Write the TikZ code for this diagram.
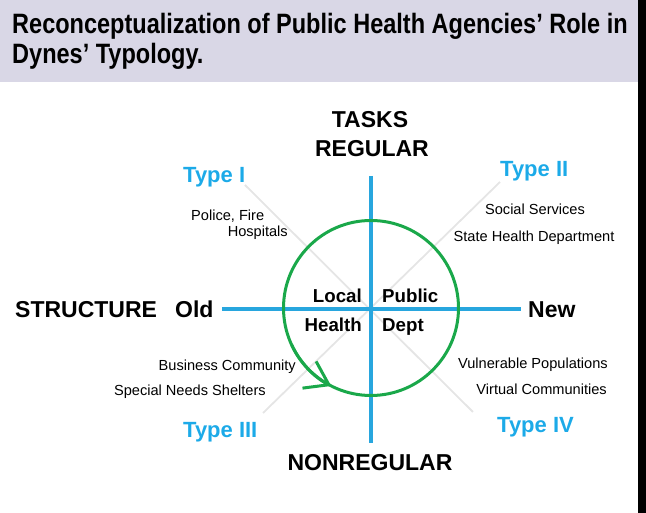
\documentclass[tikz,border=0pt]{standalone}
\usepackage{fontspec}
\setmainfont{Liberation Sans}
\newfontfamily\titlefont[FakeStretch=0.84]{Liberation Sans}
\usepackage{tikz}
\usetikzlibrary{arrows.meta}
\definecolor{bandlilac}{RGB}{217,215,230}
\definecolor{typeblue}{RGB}{28,170,232}
\definecolor{axisblue}{RGB}{40,166,222}
\definecolor{loopgreen}{RGB}{26,168,74}
\tikzset{axis/.style={draw=axisblue, line width=4pt},
    diag/.style={draw=black!10, line width=1.8pt},
    bigword/.style={font=\fontsize{23}{26}\selectfont\bfseries, inner sep=0pt},
    typelabel/.style={font=\fontsize{22}{25}\selectfont\bfseries, text=typeblue, inner sep=0pt},
    agency/.style={font=\fontsize{14.6}{16}\selectfont, inner sep=0pt},
    centreword/.style={font=\fontsize{18.7}{21}\selectfont\bfseries, inner sep=0pt}}

\begin{document}
\begin{tikzpicture}[x=1pt, y=1pt]
    \useasboundingbox (0,0) rectangle (646,513);
    \fill[bandlilac] (0,431) rectangle (638,513);
    \fill[black] (638,0) rectangle (646,513);
    \node[anchor=base west, align=left, inner sep=0pt,
        font=\titlefont\fontsize{28}{30}\selectfont\bfseries] (title) at (12,449)
        {Reconceptualization of Public Health Agencies’ Role in\\Dynes’ Typology.};

    % axes of the typology
    \coordinate (centre) at (371,204);
    \coordinate (up) at (371,337);
    \coordinate (down) at (371,70);
    \coordinate (oldend) at (222,204);
    \coordinate (newend) at (521,204);
    \coordinate (ulcorner) at (245,328);
    \coordinate (lrcorner) at (473,101);
    \coordinate (urcorner) at (500,331);
    \coordinate (llcorner) at (263,100);
    \draw[diag] (ulcorner) -- (lrcorner);
    \draw[diag] (urcorner) -- (llcorner);
    \draw[axis] (up) -- (down);
    \draw[axis] (oldend) -- (newend);

    \draw[loopgreen, line width=3pt] (371,205) circle (87.5);
    \draw[loopgreen, line width=3pt, -{Straight Barb[length=22pt, width=30pt]}]
        (371,205) ++(205:87.5) arc (205:243:87.5);

    \node[bigword, anchor=base] (tasks) at (370,385) {TASKS};
    \node[bigword, anchor=base] (regular) at (372,356) {REGULAR};
    \node[bigword, anchor=base] (nonregular) at (370,42) {NONREGULAR};
    \node[bigword, anchor=base west] (structure) at (15,195) {STRUCTURE};
    \node[bigword, anchor=base west] (old) at (175,195) {Old};
    \node[bigword, anchor=base west] (new) at (528,195) {New};

    \node[typelabel, anchor=base west] (typeI) at (183,330) {Type I};
    \node[typelabel, anchor=base west] (typeII) at (500,336) {Type II};
    \node[typelabel, anchor=base west] (typeIII) at (183,75) {Type III};
    \node[typelabel, anchor=base west] (typeIV) at (497,80) {Type IV};

    \node[agency, anchor=base west] (police) at (191,292) {Police, Fire};
    \node[agency, anchor=base east] (hospitals) at (288,276) {Hospitals};
    \node[agency, anchor=base] (social) at (535,298) {Social Services};
    \node[agency, anchor=base] (statehealth) at (534,271) {State Health Department};
    \node[agency, anchor=base east] (business) at (296,142) {Business Community};
    \node[agency, anchor=base east] (shelters) at (266,117) {Special Needs Shelters};
    \node[agency, anchor=base east] (vulnerable) at (608,144) {Vulnerable Populations};
    \node[agency, anchor=base east] (virtual) at (607,118) {Virtual Communities};

    \node[centreword, anchor=base east] (local) at (362,210) {Local};
    \node[centreword, anchor=base east] (health) at (362,181) {Health};
    \node[centreword, anchor=base west] (public) at (382,210) {Public};
    \node[centreword, anchor=base west] (dept) at (382,181) {Dept};
\end{tikzpicture}
\end{document}
